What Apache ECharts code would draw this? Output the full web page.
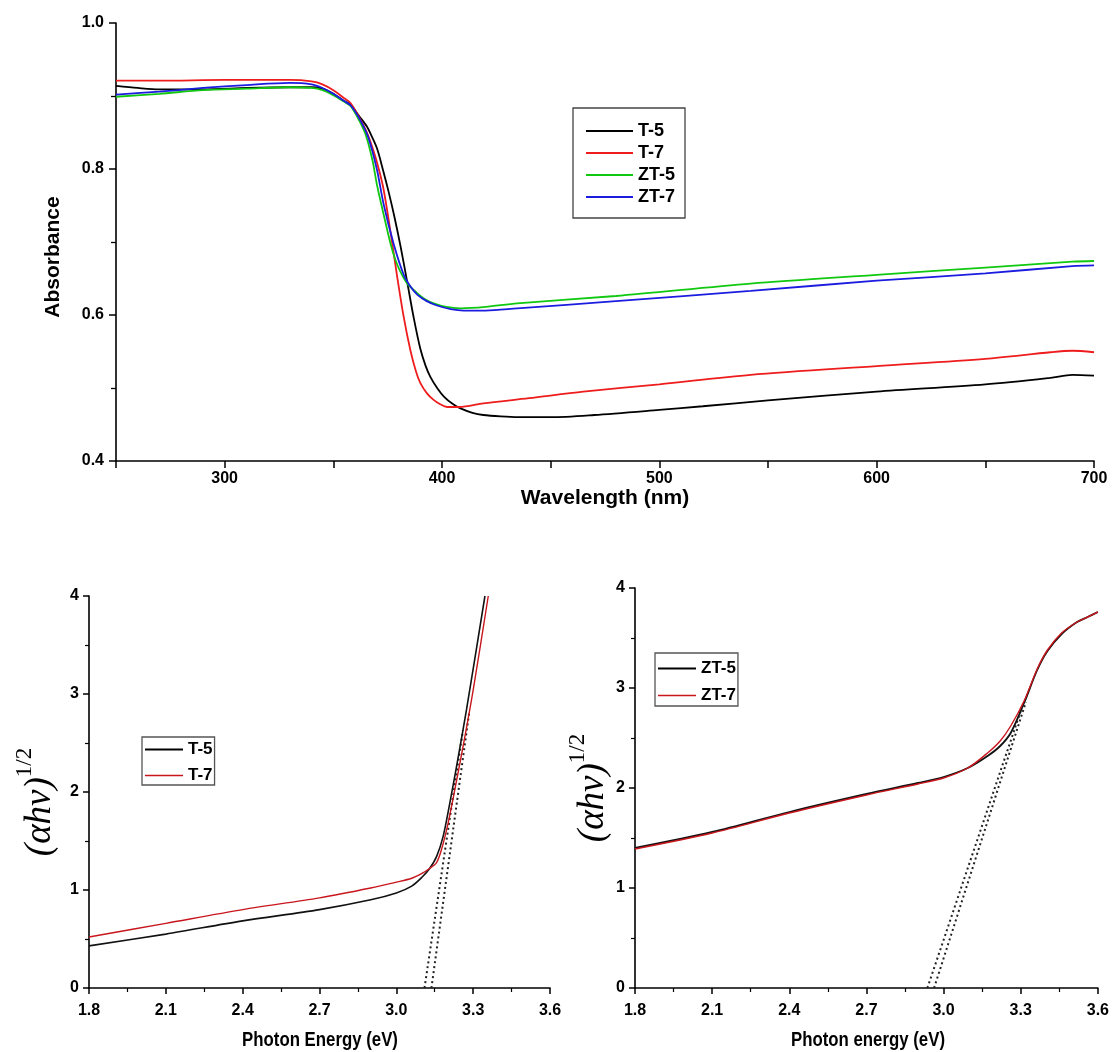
<!DOCTYPE html>
<html>
<head>
<meta charset="utf-8">
<script src="https://cdn.jsdelivr.net/npm/echarts@6/dist/echarts.min.js"></script>
<style>
html,body{margin:0;padding:0;background:#fff;}
#main{width:1112px;height:1052px;}
</style>
</head>
<body>
<div id="main"></div>
<script>
// ---------- Top panel: absorbance spectra ----------
const wlT5  = [250,260,270,290,310,330,340,345,350,355,358,362,365.5,367,370,373,375.5,378,381,384,387,390,392.5,394.7,398,401,405,408.5,414,419,427,435,450,470,500,520,550,600,650,680,690,700];
const absT5 = [0.914,0.911,0.909,0.909,0.911,0.912,0.912,0.910,0.903,0.893,0.888,0.872,0.858,0.849,0.829,0.797,0.768,0.736,0.693,0.645,0.596,0.554,0.530,0.515,0.499,0.488,0.478,0.472,0.466,0.463,0.461,0.460,0.460,0.463,0.470,0.475,0.483,0.495,0.505,0.514,0.518,0.517];

const wlT7  = [250,270,300,330,340,345,350,355,358,362,365,367,370,373,376.3,379.3,382.4,385.5,388,390,393,396,399,402.4,408,419,440,465,500,542,600,650,680,690,700];
const absT7 = [0.921,0.921,0.922,0.922,0.920,0.916,0.908,0.897,0.890,0.870,0.853,0.838,0.810,0.774,0.714,0.654,0.597,0.551,0.523,0.507,0.493,0.484,0.478,0.474,0.474,0.479,0.486,0.495,0.505,0.518,0.530,0.540,0.549,0.551,0.549];

const wlZT5  = [250,270,290,310,330,340,345,350,355,358,362,365,368,370.1,373.2,376.3,378.5,380.9,384,388.6,392,396.2,402,408.5,420,434.6,480,542,600,650,690,700];
const absZT5 = [0.899,0.903,0.908,0.910,0.912,0.911,0.908,0.901,0.892,0.886,0.866,0.846,0.812,0.778,0.737,0.698,0.676,0.659,0.643,0.630,0.622,0.616,0.611,0.609,0.611,0.616,0.626,0.643,0.655,0.665,0.673,0.674];

const wlZT7  = [250,270,290,310,330,340,345,350,355,358,362,366,370,373.2,377.8,382.4,385.5,388.6,393,397.7,404,410,420,434.6,480,542,600,650,690,700];
const absZT7 = [0.902,0.906,0.911,0.915,0.918,0.916,0.911,0.903,0.893,0.887,0.869,0.844,0.800,0.751,0.697,0.655,0.639,0.628,0.619,0.613,0.608,0.606,0.606,0.609,0.619,0.633,0.647,0.657,0.667,0.668];

// ---------- Bottom-left: Tauc plot T-5 / T-7 ----------
const eT5  = [1.8,2.1,2.4,2.7,2.9,3.0,3.06,3.10,3.13,3.157,3.183,3.209,3.235,3.274,3.346];
const yT5  = [0.43,0.55,0.685,0.80,0.90,0.97,1.04,1.13,1.22,1.34,1.55,1.89,2.26,2.84,4.0];
const eT7  = [1.8,2.1,2.4,2.7,2.9,3.0,3.06,3.10,3.13,3.157,3.176,3.202,3.228,3.261,3.30,3.359];
const yT7  = [0.52,0.66,0.80,0.92,1.02,1.08,1.12,1.17,1.22,1.28,1.41,1.68,2.02,2.47,3.04,4.0];
const tanT5x = [3.11, 3.26],  tanT5y = [0, 2.63];
const tanT7x = [3.137, 3.285], tanT7y = [0, 2.82];

// ---------- Bottom-right: Tauc plot ZT-5 / ZT-7 ----------
const eZT5 = [1.8,2.1,2.4,2.7,2.9,3.0,3.094,3.171,3.22,3.261,3.313,3.364,3.404,3.459,3.519,3.56,3.6];
const yZT5 = [1.40,1.56,1.76,1.94,2.05,2.11,2.20,2.32,2.42,2.55,2.85,3.18,3.37,3.54,3.66,3.71,3.76];
const eZT7 = [1.8,2.1,2.4,2.7,2.9,3.0,3.094,3.171,3.22,3.261,3.313,3.364,3.404,3.459,3.519,3.56,3.6];
const yZT7 = [1.39,1.55,1.75,1.93,2.04,2.10,2.20,2.35,2.47,2.62,2.87,3.19,3.38,3.55,3.66,3.71,3.76];
const tanZT5x = [2.937, 3.30], tanZT5y = [0, 2.77];
const tanZT7x = [2.963, 3.32], tanZT7y = [0, 2.86];

const topXTicks = [300,400,500,600,700];

function zip(xs, ys){ return xs.map((x,i)=>[x, ys[i]]); }

const SANS = '"Liberation Sans", Arial, sans-serif';
const SERIF = '"Liberation Serif", "DejaVu Serif", serif';

const axisLineBlack = {show:true, onZero:false, lineStyle:{color:'#000', width:1.6}};

function line(name, xi, yi, data, color, width, z){
  return {name, type:'line', xAxisIndex:xi, yAxisIndex:yi, data, symbol:'none', showSymbol:false,
    smooth:0.3, lineStyle:{color, width}, itemStyle:{color}, z:z||2, silent:true};
}
function dotted(xi, yi, data){
  return {type:'line', xAxisIndex:xi, yAxisIndex:yi, data, symbol:'none', showSymbol:false,
    lineStyle:{color:'#222', width:2, type:[2,3]}, z:1, silent:true};
}
function legItem(name, color, width){
  return {name, lineStyle:{color, width, opacity:1}, itemStyle:{opacity:0, borderWidth:0}};
}

const chart = echarts.init(document.getElementById('main'), null, {renderer:'canvas'});

const bottomX = (gi) => ({
  type:'value', gridIndex:gi, min:1.8, max:3.6, interval:0.3,
  axisLine:axisLineBlack,
  axisTick:{show:true, inside:false, length:6, lineStyle:{color:'#000', width:1.5}},
  minorTick:{show:true, splitNumber:2, length:4, lineStyle:{color:'#000', width:1.2}},
  axisLabel:{formatter:v=>v.toFixed(1), fontFamily:SANS, fontWeight:'bold', fontSize:16, color:'#000', margin:15},
  splitLine:{show:false}
});
const tauName = '{a|(\u03B1h\u03BD)}{b|1/2}';
const tauRich = {
  a:{fontFamily:SERIF, fontStyle:'italic', fontSize:37, color:'#000', lineHeight:46, verticalAlign:'bottom'},
  b:{fontFamily:SERIF, fontSize:23, color:'#000', verticalAlign:'top', lineHeight:46}
};
const bottomY = (gi, gap, pad) => ({
  type:'value', gridIndex:gi, min:0, max:4, interval:1,
  name:tauName, nameLocation:'middle', nameGap:gap, nameRotate:90,
  nameTextStyle:{rich:tauRich, padding:pad},
  axisLine:axisLineBlack,
  axisTick:{show:true, inside:false, length:6, lineStyle:{color:'#000', width:1.5}},
  minorTick:{show:true, splitNumber:2, length:4, lineStyle:{color:'#000', width:1.2}},
  axisLabel:{formatter:v=>String(Math.round(v)), fontFamily:SANS, fontWeight:'bold', fontSize:16, color:'#000', margin:10},
  splitLine:{show:false}
});

const option = {
  backgroundColor:'#fff',
  animation:false,
  grid:[
    {left:116, top:23, width:978, height:438},
    {left:89, top:596, width:461, height:392},
    {left:635, top:588, width:466, height:400}
  ],
  xAxis:[
    {type:'value', gridIndex:0, min:250, max:700, interval:50,
     name:'Wavelength (nm)', nameLocation:'middle', nameGap:21,
     nameTextStyle:{fontFamily:SANS, fontWeight:'bold', fontSize:21, color:'#000'},
     axisLine:axisLineBlack,
     axisTick:{show:true, inside:false, length:7, lineStyle:{color:'#000', width:1.5}},
     axisLabel:{formatter:v=>topXTicks.indexOf(v)>=0?String(v):'', fontFamily:SANS, fontWeight:'bold', fontSize:16, color:'#000', margin:10},
     splitLine:{show:false}},
    bottomX(1),
    bottomX(2)
  ],
  yAxis:[
    {type:'value', gridIndex:0, min:0.4, max:1.0, interval:0.2,
     name:'Absorbance', nameLocation:'middle', nameGap:52,
     nameTextStyle:{fontFamily:SANS, fontWeight:'bold', fontSize:21, color:'#000', padding:[0,30,0,0]},
     axisLine:axisLineBlack,
     axisTick:{show:true, inside:false, length:7, lineStyle:{color:'#000', width:1.5}},
     minorTick:{show:true, splitNumber:2, length:5, lineStyle:{color:'#000', width:1.3}},
     axisLabel:{formatter:v=>v.toFixed(1), fontFamily:SANS, fontWeight:'bold', fontSize:16, color:'#000', margin:12},
     splitLine:{show:false}},
    bottomY(1, 30, [0,20,0,0]),
    bottomY(2, 22, [0,0,0,0])
  ],
  legend:[
    {orient:'vertical', left:573, top:108, padding:[14,10,12,12], itemGap:4,
     itemWidth:47, itemHeight:14, itemTextGap:8, borderColor:'#444', borderWidth:1.3, backgroundColor:'#fff',
     textStyle:{fontFamily:SANS, fontWeight:'bold', fontSize:18, color:'#000', lineHeight:18},
     selectedMode:false,
     data:[legItem('T-5','#000',2), legItem('T-7','#ee1c1c',2), legItem('ZT-5','#10c810',2), legItem('ZT-7','#1c1ce0',2)]},
    {orient:'vertical', left:142, top:737, padding:[4,2,1,2], itemGap:9,
     itemWidth:38, itemHeight:14, itemTextGap:4, borderColor:'#555', borderWidth:1.3, backgroundColor:'#fff',
     textStyle:{fontFamily:SANS, fontWeight:'bold', fontSize:17, color:'#000', lineHeight:16},
     selectedMode:false,
     data:[legItem('T-5','#000',2), legItem('T-7','#c8161d',1.6)]},
    {orient:'vertical', left:655, top:653, padding:[7,2,2,2], itemGap:10,
     itemWidth:38, itemHeight:14, itemTextGap:4, borderColor:'#555', borderWidth:1.3, backgroundColor:'#fff',
     textStyle:{fontFamily:SANS, fontWeight:'bold', fontSize:17, color:'#000', lineHeight:17},
     selectedMode:false,
     data:[legItem('ZT-5','#000',2), legItem('ZT-7','#c8161d',1.6)]}
  ],
  graphic:[
    {type:'text', x:320, y:1040, scaleX:0.8, silent:true,
     style:{text:'Photon Energy (eV)', fontFamily:SANS, fontWeight:'bold', fontSize:21, fill:'#000', align:'center', verticalAlign:'middle'}},
    {type:'text', x:868, y:1040, scaleX:0.8, silent:true,
     style:{text:'Photon energy (eV)', fontFamily:SANS, fontWeight:'bold', fontSize:21, fill:'#000', align:'center', verticalAlign:'middle'}}
  ],
  series:[
    line('T-5', 0, 0, zip(wlT5, absT5), '#000', 1.8, 3),
    line('T-7', 0, 0, zip(wlT7, absT7), '#ee1c1c', 1.8, 3),
    line('ZT-5', 0, 0, zip(wlZT5, absZT5), '#10c810', 1.8, 3),
    line('ZT-7', 0, 0, zip(wlZT7, absZT7), '#1c1ce0', 1.8, 3),
    dotted(1, 1, zip(tanT5x, tanT5y)),
    dotted(1, 1, zip(tanT7x, tanT7y)),
    line('T-5', 1, 1, zip(eT5, yT5), '#111', 1.6, 3),
    line('T-7', 1, 1, zip(eT7, yT7), '#c8161d', 1.4, 3),
    dotted(2, 2, zip(tanZT5x, tanZT5y)),
    dotted(2, 2, zip(tanZT7x, tanZT7y)),
    line('ZT-5', 2, 2, zip(eZT5, yZT5), '#111', 1.8, 3),
    line('ZT-7', 2, 2, zip(eZT7, yZT7), '#c8161d', 1.4, 3)
  ]
};
chart.setOption(option);
</script>
</body>
</html>
